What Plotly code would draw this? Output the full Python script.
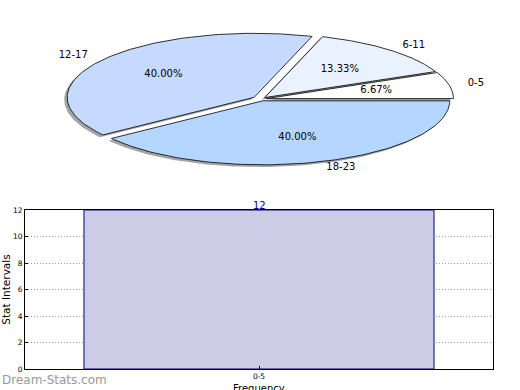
import numpy as np
import plotly.graph_objects as go

# ---- data ----
pie_labels = ["0-5", "6-11", "12-17", "18-23"]
pie_values = [1, 2, 6, 6]
bar_categories = ["0-5"]
bar_values = [12]
y_ticks = [0, 2, 4, 6, 8, 10, 12]

# ---- style ----
pie_colors = ["#FFFFFF", "#EAF2FF", "#C6D9FF", "#B5D6FF"]
explode = [0.03, 0.03, 0.045, 0.03]
FONT = "DejaVu Sans"

fig = go.Figure()

total = sum(pie_values)
angles = np.cumsum([0] + [v / total * 360 for v in pie_values])

def slice_poly(a0, a1, off):
    t = np.radians(np.linspace(a0, a1, 120))
    xs = np.concatenate([[0], np.cos(t), [0]]) + off[0]
    ys = np.concatenate([[0], np.sin(t), [0]]) + off[1]
    return xs, ys

offsets = []
for i in range(len(pie_values)):
    mid = np.radians((angles[i] + angles[i + 1]) / 2)
    offsets.append((explode[i] * np.cos(mid), explode[i] * np.sin(mid)))

# shadows
for i in range(len(pie_values)):
    xs, ys = slice_poly(angles[i], angles[i + 1], offsets[i])
    fig.add_trace(go.Scatter(x=xs - 0.016, y=ys - 0.035, mode="lines", fill="toself",
                             fillcolor="rgba(90,90,90,0.55)", line=dict(width=0),
                             xaxis="x2", yaxis="y2", hoverinfo="skip", showlegend=False))
# slices
for i in range(len(pie_values)):
    xs, ys = slice_poly(angles[i], angles[i + 1], offsets[i])
    fig.add_trace(go.Scatter(x=xs, y=ys, mode="lines", fill="toself",
                             fillcolor=pie_colors[i], line=dict(color="black", width=0.8),
                             xaxis="x2", yaxis="y2", hoverinfo="skip", showlegend=False))
# labels
for i in range(len(pie_values)):
    mid = np.radians((angles[i] + angles[i + 1]) / 2)
    ox, oy = offsets[i]
    lx, ly = 1.1 * np.cos(mid) + ox, 1.1 * np.sin(mid) + oy
    pos = "middle right" if np.cos(mid) >= 0 else "middle left"
    fig.add_trace(go.Scatter(x=[lx], y=[ly], mode="text", text=[pie_labels[i]],
                             textposition=pos, textfont=dict(family=FONT, size=10, color="black"),
                             xaxis="x2", yaxis="y2", hoverinfo="skip", showlegend=False))
    px, py = 0.6 * np.cos(mid) + ox, 0.6 * np.sin(mid) + oy
    fig.add_trace(go.Scatter(x=[px], y=[py], mode="text",
                             text=["%.2f%%" % (pie_values[i] / total * 100)],
                             textposition="middle center",
                             textfont=dict(family=FONT, size=10, color="black"),
                             xaxis="x2", yaxis="y2", hoverinfo="skip", showlegend=False))

# bar chart
fig.add_trace(go.Bar(x=bar_categories, y=bar_values, width=0.748,
                     marker=dict(color="#CCCCE6", line=dict(color="#000080", width=1)),
                     cliponaxis=False, xaxis="x", yaxis="y", showlegend=False,
                     hoverinfo="skip"))

W, H = 520, 390
cx, cy, rx, ry = 261, 99, 187, 64
ax_left, ax_right = 25, 493

annotations = [dict(text=str(v), x=c, y=v, xref="x", yref="y",
                    xanchor="center", yanchor="middle", yshift=5, showarrow=False,
                    font=dict(family=FONT, size=10, color="#000080"))
               for c, v in zip(bar_categories, bar_values)]
annotations.append(dict(text="Frequency", x=(ax_left + ax_right) / 2 / W, y=(H - 382) / H,
                        xref="paper", yref="paper", xanchor="center", yanchor="top",
                        showarrow=False, borderpad=0,
                        font=dict(family=FONT, size=10, color="black")))
annotations.append(dict(text="Dream-Stats.com", x=0, y=(H - 380) / H,
                        xref="paper", yref="paper",
                        xanchor="left", yanchor="middle", showarrow=False,
                        font=dict(family=FONT, size=12, color="#999999")))

grid = dict(showgrid=True, gridcolor="#999999", griddash="1px,2px", gridwidth=1)
axis_common = dict(showline=True, mirror=True, linecolor="black", linewidth=1,
                   ticks="inside", ticklen=3, tickcolor="black",
                   layer="above traces", tickfont=dict(size=7.5, family=FONT),
                   automargin=False, **grid)

fig.update_layout(
    width=W, height=H,
    margin=dict(l=0, r=0, t=0, b=0),
    paper_bgcolor="white", plot_bgcolor="rgba(0,0,0,0)",
    font=dict(family=FONT, color="black"),
    showlegend=False,
    xaxis2=dict(domain=[0, 1], range=[-cx / rx, (W - cx) / rx], visible=False,
                anchor="y2", fixedrange=True),
    yaxis2=dict(domain=[0.5, 1], range=[-(195 - cy) / ry, cy / ry], visible=False,
                anchor="x2", fixedrange=True),
    xaxis=dict(domain=[ax_left / W, ax_right / W], anchor="y", range=[-0.5, 0.5],
               **axis_common),
    yaxis=dict(domain=[(H - 369) / H, (H - 210) / H], anchor="x", range=[0, 12],
               tickvals=y_ticks, zeroline=False,
               title=dict(text="Stat Intervals", font=dict(size=10.5, family=FONT), standoff=2),
               **axis_common),
    annotations=annotations,
)

fig.write_html("out.html", config={"displayModeBar": False},
               post_script="document.body.style.margin='0px';")
